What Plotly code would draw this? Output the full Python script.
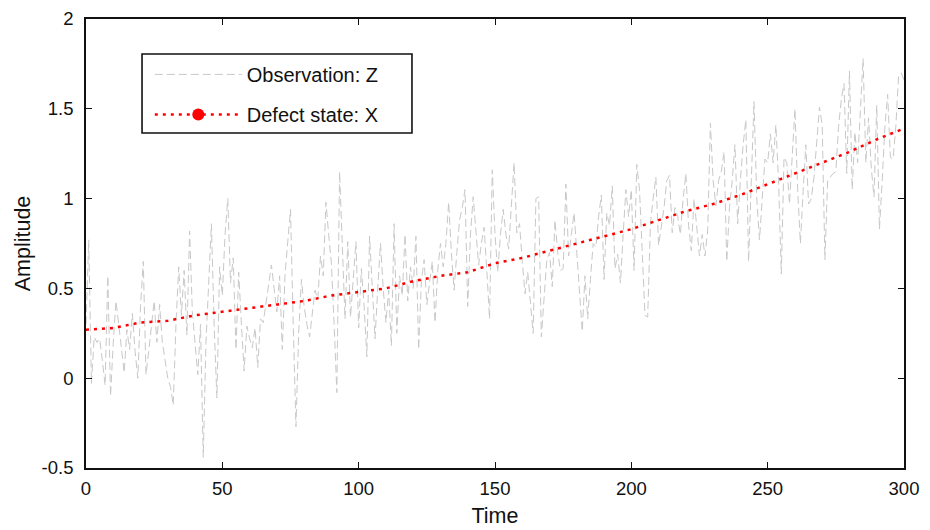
import plotly.graph_objects as go

# Observation Z (one value per time step, t = 0..300)
obs_z = [
    0.30, 0.77, -0.03, 0.23, 0.20, 0.22, 0.10, -0.04, 0.57, -0.10,
    0.20, 0.43, 0.30, 0.15, 0.03, 0.27, 0.16, 0.36, 0.15, 0.00,
    0.40, 0.65, 0.02, 0.15, 0.30, 0.43, 0.20, 0.41, 0.20, 0.10,
    0.00, -0.05, -0.15, 0.30, 0.62, 0.35, 0.60, 0.24, 0.82, 0.37,
    0.20, 0.02, 0.30, -0.44, 0.20, 0.50, 0.86, 0.30, -0.11, 0.62,
    0.46, 0.80, 1.00, 0.53, 0.67, 0.16, 0.59, 0.30, 0.04, 0.29,
    0.22, 0.17, 0.28, 0.06, 0.33, 0.31, 0.42, 0.52, 0.63, 0.50,
    0.37, 0.57, 0.16, 0.58, 0.75, 0.94, 0.30, -0.27, 0.25, 0.55,
    0.40, 0.30, 0.23, 0.35, 0.49, 0.44, 0.68, 0.57, 0.98, 0.80,
    0.64, 0.30, -0.08, 1.15, 0.70, 0.33, 0.76, 0.34, 0.55, 0.76,
    0.28, 0.61, 0.40, 0.12, 0.79, 0.50, 0.22, 0.50, 0.75, 0.50,
    0.31, 0.49, 0.18, 0.86, 0.25, 0.57, 0.46, 0.80, 0.43, 0.62,
    0.50, 0.79, 0.16, 0.54, 0.66, 0.41, 0.53, 0.65, 0.31, 0.60,
    0.75, 0.62, 0.75, 0.98, 0.70, 0.49, 0.70, 0.88, 0.95, 1.05,
    0.40, 0.80, 1.01, 0.80, 0.63, 0.75, 0.84, 0.60, 0.33, 1.16,
    0.80, 0.59, 0.80, 0.94, 0.80, 0.72, 0.95, 1.20, 0.81, 0.86,
    0.65, 0.47, 0.59, 0.40, 0.25, 1.00, 1.01, 0.23, 0.45, 0.66,
    0.70, 0.51, 0.88, 0.70, 0.60, 0.61, 1.08, 0.68, 0.80, 0.92,
    0.70, 0.50, 0.26, 0.57, 0.33, 0.55, 0.75, 0.73, 0.90, 1.02,
    0.55, 0.92, 0.85, 1.07, 0.61, 0.69, 0.53, 0.80, 1.05, 0.90,
    1.05, 0.60, 1.19, 1.05, 0.70, 0.35, 0.34, 0.86, 1.00, 1.12,
    0.74, 0.85, 0.95, 1.10, 1.13, 0.81, 0.95, 0.90, 0.80, 1.00,
    1.14, 0.85, 0.71, 1.00, 0.85, 0.68, 0.80, 0.68, 0.82, 1.42,
    1.10, 0.96, 1.10, 1.15, 1.26, 0.65, 0.95, 1.10, 1.30, 0.86,
    1.10, 1.30, 1.44, 0.65, 1.10, 1.54, 1.00, 0.77, 1.00, 1.22,
    1.20, 1.36, 1.20, 1.41, 1.10, 0.58, 1.23, 1.20, 0.97, 1.25,
    1.50, 1.05, 0.75, 1.04, 1.30, 0.97, 1.00, 1.12, 1.30, 1.51,
    1.41, 0.66, 1.10, 1.12, 1.14, 1.15, 1.40, 1.55, 1.64, 1.14,
    1.71, 1.05, 1.37, 1.20, 1.50, 1.78, 1.20, 1.45, 1.17, 1.01,
    1.52, 0.83, 1.10, 1.40, 1.58, 1.23, 1.22, 1.40, 1.68, 1.70,
    1.66,
]
obs_t = list(range(len(obs_z)))

# Defect state X
state_t = [0, 10, 20, 30, 40, 50, 60, 70, 80, 90, 100, 110, 120, 130, 140, 150,
           160, 170, 180, 190, 200, 210, 220, 230, 240, 250, 260, 270, 280, 290, 300]
state_x = [0.27, 0.28, 0.31, 0.32, 0.35, 0.37, 0.39, 0.41, 0.43, 0.46, 0.48, 0.50,
           0.54, 0.57, 0.59, 0.64, 0.67, 0.71, 0.75, 0.79, 0.83, 0.88, 0.93, 0.97,
           1.02, 1.08, 1.14, 1.20, 1.26, 1.33, 1.39]

x_ticks = [0, 50, 100, 150, 200, 250, 300]
x_tick_text = ["0", "50", "100", "150", "200", "250", "300"]
y_ticks = [-0.5, 0, 0.5, 1, 1.5, 2]
y_tick_text = ["-0.5", "0", "0.5", "1", "1.5", "2"]

FONT = "Arial, Liberation Sans, sans-serif"
RED = "#ff0000"
GRAY = "#c8c8c8"
INK = "#111111"

fig = go.Figure()
fig.add_trace(go.Scatter(
    x=obs_t, y=obs_z, mode="lines", name="Observation: Z",
    line=dict(color=GRAY, width=1, dash="8px,4px"),
    legendgroup="z",
))
fig.add_trace(go.Scatter(
    x=state_t, y=state_x, mode="lines", name="Defect state: X",
    line=dict(color=RED, width=2.5, dash="3px,5px"),
    showlegend=False, legendgroup="x",
))
# legend-only entry for the state (line with a dot marker)
fig.add_trace(go.Scatter(
    x=[None], y=[None], mode="lines+markers", name="Defect state: X",
    line=dict(color=RED, width=2.5, dash="3px,5px"),
    marker=dict(color=RED, size=12),
    legendgroup="x",
))

axis_common = dict(
    showline=True, linecolor=INK, linewidth=1.6, mirror="ticks",
    ticks="inside", ticklen=6, tickwidth=1.2, tickcolor=INK,
    showgrid=False, zeroline=False, automargin=False,
    tickfont=dict(family=FONT, size=18.5, color=INK),
)

fig.update_layout(
    width=922, height=522,
    margin=dict(l=78, r=26, t=11, b=62),
    paper_bgcolor="white", plot_bgcolor="white",
    font=dict(family=FONT, color=INK),
    xaxis=dict(range=[0, 300], tickvals=x_ticks, ticktext=x_tick_text,
               ticklabelstandoff=3,
               title=dict(text="Time", font=dict(family=FONT, size=21.5, color=INK), standoff=10),
               **axis_common),
    yaxis=dict(range=[-0.5, 2], tickvals=y_ticks, ticktext=y_tick_text,
               ticklabelstandoff=7,
               title=dict(text="Amplitude", font=dict(family=FONT, size=21.5, color=INK), standoff=5),
               **axis_common),
    legend=dict(
        x=0.078, y=0.92, xanchor="left", yanchor="top",
        bgcolor="rgba(0,0,0,0)", borderwidth=0,
        font=dict(family=FONT, size=20, color=INK),
        itemwidth=87, tracegroupgap=11,
    ),
    shapes=[dict(type="rect", xref="paper", yref="paper",
                 x0=0.0685, x1=0.3985, y0=0.746, y1=0.922,
                 line=dict(color=INK, width=1.6), fillcolor="white",
                 layer="above")],
    showlegend=True,
)

fig.write_html("out.html")
